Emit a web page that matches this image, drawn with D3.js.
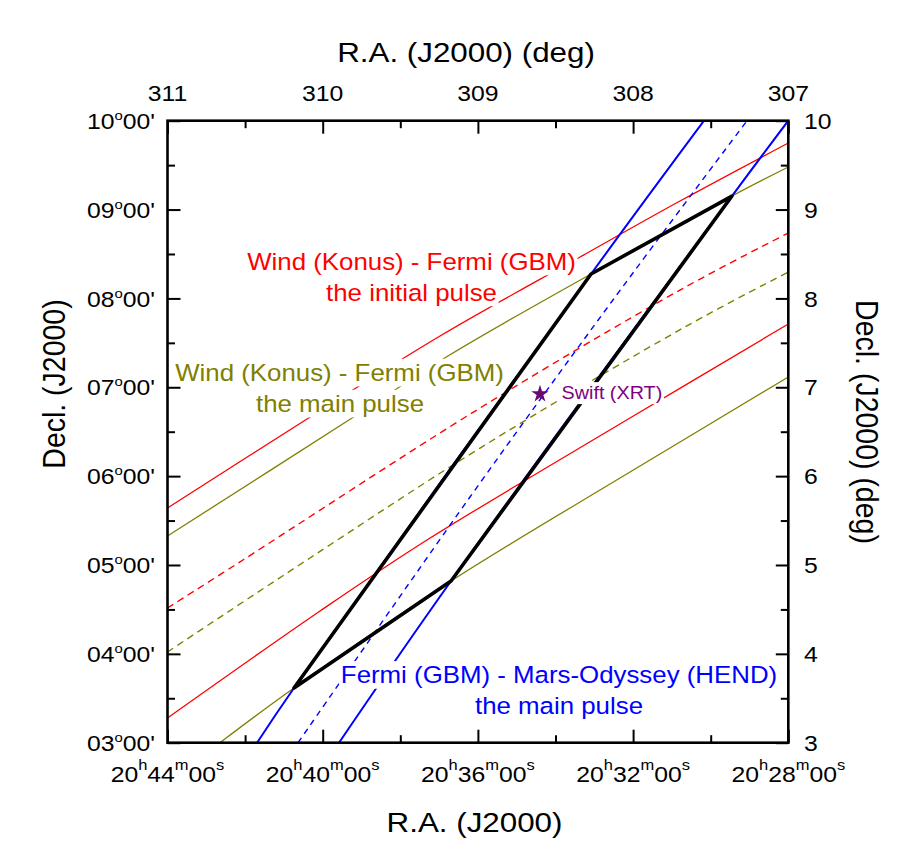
<!DOCTYPE html>
<html>
<head>
<meta charset="utf-8">
<script src="https://cdn.jsdelivr.net/npm/d3@7"></script>
<style>
  html, body { margin: 0; padding: 0; background: #fff; }
  svg { display: block; font-family: "Liberation Sans", Arial, Helvetica, sans-serif; }
</style>
</head>
<body>
<svg id="chart" width="923" height="842"></svg>
<script>
// ---------------- data ----------------
const raTicks = [311, 310, 309, 308, 307];
const raMinor = [310.5, 309.5, 308.5, 307.5];
const raDegLabels = ["311", "310", "309", "308", "307"];
const raTimeLabels = ["20h44m00s", "20h40m00s", "20h36m00s", "20h32m00s", "20h28m00s"];
const decTicks = [3, 4, 5, 6, 7, 8, 9, 10];
const decMinor = [3.5, 4.5, 5.5, 6.5, 7.5, 8.5, 9.5];
const decDmsLabels = ["03°00'", "04°00'", "05°00'", "06°00'", "07°00'", "08°00'", "09°00'", "10°00'"];
const decDegLabels = ["3", "4", "5", "6", "7", "8", "9", "10"];

// Wind (Konus) - Fermi (GBM), initial pulse (red): [R.A. deg, Decl. deg]
const redUpper  = [[311, 5.641], [310.101, 6.643], [309.244, 7.577], [308.342, 8.466], [307.698, 9.096], [307, 9.749]];
const redCenter = [[311, 4.516], [310.514, 5.056], [308.986, 6.767], [307.698, 8.094], [307, 8.736]];
const redLower  = [[311, 3.278], [310.017, 4.482], [309.328, 5.281], [308.020, 6.654], [307, 7.712]];
// Wind (Konus) - Fermi (GBM), main pulse (olive)
const oliveUpper  = [[311, 5.326], [309.811, 6.654], [309.193, 7.352], [308.271, 8.275], [307.363, 9.152], [307, 9.479]];
const oliveCenter = [[311, 4.021], [310.082, 5.079], [308.986, 6.316], [307.678, 7.667], [307, 8.297]];
const oliveLower  = [[310.662, 3.0], [310.185, 3.616], [309.173, 4.820], [308.020, 6.046], [307, 7.115]];
// Fermi (GBM) - Mars-Odyssey (HEND), main pulse (blue)
const blueLeft   = [[310.423, 3], [310.185, 3.616], [308.271, 8.275], [307.543, 10]];
const blueCenter = [[310.159, 3], [309.051, 5.765], [308.130, 7.982], [307.266, 10]];
const blueRight  = [[309.895, 3], [309.173, 4.820], [307.363, 9.152], [307.0, 10]];
// error box (black) and Swift XRT position
const errorBox = [[310.185, 3.616], [308.271, 8.275], [307.363, 9.152], [309.173, 4.820]];
const swiftXRT = [308.600, 6.924];

// ---------------- layout ----------------
const W = 923, H = 842;
const L = 167.5, R = 788.3, T = 120.7, B = 742.7;
const SX = 1.1; // horizontal stretch of text, as in the reference

const svg = d3.select("#chart");
const x = d3.scaleLinear().domain([311, 307]).range([L, R]);
const y = d3.scaleLinear().domain([3, 10]).range([B, T]);

svg.append("defs").append("clipPath").attr("id", "plotclip")
  .append("rect").attr("x", L).attr("y", T).attr("width", R - L).attr("height", B - T);

const plot = svg.append("g").attr("clip-path", "url(#plotclip)");
const line = d3.line().x(d => x(d[0])).y(d => y(d[1])).curve(d3.curveCatmullRom.alpha(0.5));

const series = [
  {d: redUpper, c: "#ff0000", w: 1.3, dash: null},
  {d: redCenter, c: "#ff0000", w: 1.4, dash: "7,5"},
  {d: redLower, c: "#ff0000", w: 1.3, dash: null},
  {d: oliveUpper, c: "#808000", w: 1.3, dash: null},
  {d: oliveCenter, c: "#808000", w: 1.4, dash: "7,5"},
  {d: oliveLower, c: "#808000", w: 1.3, dash: null},
  {d: blueLeft, c: "#0000ff", w: 2, dash: null},
  {d: blueCenter, c: "#0000ff", w: 1.4, dash: "6,5"},
  {d: blueRight, c: "#0000ff", w: 2, dash: null}
];
plot.selectAll("path.ln").data(series).join("path")
  .attr("class", "ln")
  .attr("d", s => line(s.d))
  .attr("fill", "none")
  .attr("stroke", s => s.c)
  .attr("stroke-width", s => s.w)
  .attr("stroke-dasharray", s => s.dash);

plot.append("path")
  .attr("d", d3.line().x(d => x(d[0])).y(d => y(d[1]))(errorBox) + "Z")
  .attr("fill", "none").attr("stroke", "#000").attr("stroke-width", 3.6)
  .attr("stroke-linejoin", "round");

// ---------------- annotations ----------------
function label(txt, cx, by, size, color, anchor) {
  const g = svg.append("g").attr("transform", `translate(${cx},${by}) scale(${SX},1)`);
  const rect = g.append("rect").attr("fill", "#fff");
  const t = g.append("text").attr("x", 0).attr("y", 0)
    .attr("text-anchor", anchor || "middle")
    .attr("font-size", size).attr("fill", color).text(txt);
  const bb = t.node().getBBox();
  rect.attr("x", bb.x - 1.5).attr("y", bb.y - 1).attr("width", bb.width + 3).attr("height", bb.height + 2);
  return g;
}
label("Wind (Konus) - Fermi (GBM)", 411.5, 269.5, 23.5, "#ff0000");
label("the initial pulse", 411.5, 300.5, 23.5, "#ff0000");
label("Wind (Konus) - Fermi (GBM)", 339.5, 380.7, 23.5, "#808000");
label("the main pulse", 340, 411.7, 23.5, "#808000");
label("Fermi (GBM) - Mars-Odyssey (HEND)", 559, 683, 23.5, "#0000ff");
label("the main pulse", 559, 714, 23.5, "#0000ff");
label("Swift (XRT)", 561.5, 399.3, 18, "#800080", "start");

svg.append("path")
  .attr("d", d3.symbol().type(d3.symbolStar).size(95)())
  .attr("transform", `translate(${x(swiftXRT[0])},${y(swiftXRT[1])})`)
  .attr("fill", "#6a0a6e");

// ---------------- axes ----------------
function ticks(axisFn, scale, values, size, tx, ty) {
  const g = svg.append("g").attr("transform", `translate(${tx},${ty})`)
    .call(axisFn(scale).tickValues(values).tickSize(-size).tickFormat(""));
  g.select(".domain").remove();
  g.selectAll(".tick line").attr("stroke", "#000").attr("stroke-width", 2);
}
ticks(d3.axisBottom, x, raTicks, 13, 0, B);
ticks(d3.axisBottom, x, raMinor, 7.5, 0, B);
ticks(d3.axisTop, x, raTicks, 13, 0, T);
ticks(d3.axisTop, x, raMinor, 7.5, 0, T);
ticks(d3.axisLeft, y, decTicks, 13, L, 0);
ticks(d3.axisLeft, y, decMinor, 7.5, L, 0);
ticks(d3.axisRight, y, decTicks, 12.5, R, 0);
ticks(d3.axisRight, y, decMinor, 7.5, R, 0);

svg.append("rect").attr("x", L).attr("y", T).attr("width", R - L).attr("height", B - T)
  .attr("fill", "none").attr("stroke", "#000").attr("stroke-width", 2.6);

const tickFont = 22.5;
// top: degrees
svg.selectAll("text.topl").data(raTicks).join("text")
  .attr("class", "topl")
  .attr("transform", (d, i) => `translate(${x(d)},100.7) scale(${SX},1)`)
  .attr("text-anchor", "middle").attr("font-size", tickFont).attr("fill", "#000")
  .text((d, i) => raDegLabels[i]);

// bottom: time labels with superscripts
function supParts(s, supChars) {
  const parts = [];
  let buf = "";
  for (const ch of s) {
    if (supChars.includes(ch)) {
      if (buf) parts.push({t: buf, sup: false});
      parts.push({t: ch === "°" ? "o" : ch, sup: true});
      buf = "";
    } else buf += ch;
  }
  if (buf) parts.push({t: buf, sup: false});
  return parts;
}
function richText(sel, parts, supSize, rise) {
  let raised = false;
  parts.forEach(p => {
    const ts = sel.append("tspan").text(p.t);
    if (p.sup) { ts.attr("font-size", supSize).attr("dy", -rise); raised = true; }
    else if (raised) { ts.attr("dy", rise); raised = false; }
  });
}
raTicks.forEach((d, i) => {
  const t = svg.append("text")
    .attr("transform", `translate(${x(d)},781.7) scale(${SX},1)`)
    .attr("text-anchor", "middle").attr("font-size", tickFont).attr("fill", "#000");
  richText(t, supParts(raTimeLabels[i], ["h", "m", "s"]), 15, 12);
});
// left: dms labels
decTicks.forEach((d, i) => {
  const t = svg.append("text")
    .attr("transform", `translate(155,${y(d) + 8.2}) scale(${SX},1)`)
    .attr("text-anchor", "end").attr("font-size", tickFont).attr("fill", "#000");
  richText(t, supParts(decDmsLabels[i], ["°"]), 13.5, 9);
});
// right: degrees
svg.selectAll("text.rl").data(decTicks).join("text")
  .attr("class", "rl")
  .attr("transform", d => `translate(804,${y(d) + 8.2}) scale(${SX},1)`)
  .attr("text-anchor", "start").attr("font-size", tickFont).attr("fill", "#000")
  .text((d, i) => decDegLabels[i]);

// titles
const titleFont = 28.5;
svg.append("text").attr("transform", `translate(466,62) scale(${SX},1)`)
  .attr("text-anchor", "middle").attr("font-size", titleFont).text("R.A. (J2000) (deg)");
svg.append("text").attr("transform", `translate(474.5,831.5) scale(${SX},1)`)
  .attr("text-anchor", "middle").attr("font-size", titleFont).text("R.A. (J2000)");
svg.append("text").attr("transform", `translate(65,384) scale(${SX},1) rotate(-90)`)
  .attr("text-anchor", "middle").attr("font-size", titleFont).text("Decl. (J2000)");
svg.append("text").attr("transform", `translate(856,422) scale(${SX},1) rotate(90)`)
  .attr("text-anchor", "middle").attr("font-size", titleFont).text("Decl. (J2000) (deg)");
</script>
</body>
</html>
